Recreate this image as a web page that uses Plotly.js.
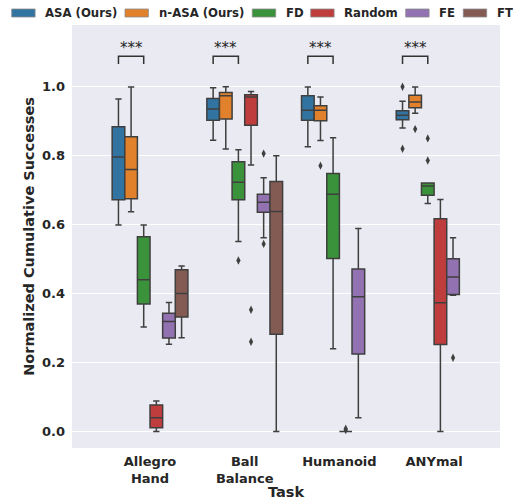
<!DOCTYPE html>
<html>
<head>
<meta charset="utf-8">
<script src="https://cdn.plot.ly/plotly-3.0.1.min.js"></script>
<style>
  html, body { margin: 0; padding: 0; background: #ffffff; }
  #chart { width: 513px; height: 500px; }
</style>
</head>
<body>
<div id="chart"></div>
<script>
// Tasks on the x axis and the compared methods (hue)
const tasks = ['Allegro<br>Hand', 'Ball<br>Balance', 'Humanoid', 'ANYmal'];
const methods = ['ASA (Ours)', 'n-ASA (Ours)', 'FD', 'Random', 'FE', 'FT'];
const colors = ['#3274a1', '#e1812c', '#3a923a', '#c03d3e', '#9372b2', '#845b53'];

// Box statistics per task: [lower whisker, Q1, median, Q3, upper whisker]; null = not run
const asaStats = [
  [0.599, 0.672, 0.796, 0.884, 0.964],
  [0.845, 0.903, 0.935, 0.966, 0.997],
  [0.826, 0.903, 0.932, 0.974, 0.999],
  [0.880, 0.904, 0.917, 0.930, 0.958]
];
const nAsaStats = [
  [0.637, 0.675, 0.760, 0.855, 0.999],
  [0.819, 0.906, 0.974, 0.983, 1.000],
  [0.844, 0.901, 0.932, 0.945, 0.970],
  [0.923, 0.939, 0.956, 0.975, 0.999]
];
const fdStats = [
  [0.303, 0.370, 0.440, 0.565, 0.599],
  [0.551, 0.672, 0.723, 0.782, 0.817],
  [0.240, 0.502, 0.688, 0.748, 0.852],
  [0.661, 0.685, 0.712, 0.721, 0.721]
];
const randomStats = [
  [0.000, 0.011, 0.040, 0.077, 0.088],
  [0.773, 0.888, 0.970, 0.977, 0.986],
  [0.000, 0.000, 0.000, 0.000, 0.000],
  [0.000, 0.252, 0.373, 0.617, 0.673]
];
const feStats = [
  [0.253, 0.271, 0.319, 0.343, 0.374],
  [0.562, 0.636, 0.665, 0.688, 0.736],
  [0.040, 0.225, 0.391, 0.471, 0.589],
  [0.395, 0.397, 0.448, 0.501, 0.562]
];
const ftStats = [
  [0.272, 0.332, 0.400, 0.469, 0.480],
  [0.000, 0.282, 0.638, 0.725, 0.800],
  null,
  null
];

// Points beyond the whiskers, per task
const asaOutliers = [[], [], [], [1.000, 0.820]];
const nAsaOutliers = [[], [], [0.771], [0.877]];
const fdOutliers = [[], [0.496], [], [0.850, 0.786]];
const randomOutliers = [[], [0.353, 0.260], [0.004, 0.008], []];
const feOutliers = [[], [0.806, 0.544], [], [0.214]];
const ftOutliers = [[], [], [], []];

// Significance marks between ASA and the baselines
const sigLabels = ['***', '***', '***', '***'];

const allStats = [asaStats, nAsaStats, fdStats, randomStats, feStats, ftStats];
const allOutliers = [asaOutliers, nAsaOutliers, fdOutliers, randomOutliers, feOutliers, ftOutliers];

const edgeColor = '#3f3f3f';
const textColor = '#262626';
const font = 'DejaVu Sans, Verdana, sans-serif';

const groupWidth = 0.8;
const slot = groupWidth / methods.length;
const offset = h => -groupWidth / 2 + (h + 0.5) * slot;

const traces = [];
allStats.forEach((stats, h) => {
  const xs = [], lo = [], q1 = [], md = [], q3 = [], hi = [];
  stats.forEach((s, t) => {
    if (!s) return;
    xs.push(t + offset(h));
    lo.push(s[0]); q1.push(s[1]); md.push(s[2]); q3.push(s[3]); hi.push(s[4]);
  });
  traces.push({
    type: 'box', name: methods[h],
    x: xs, lowerfence: lo, q1: q1, median: md, q3: q3, upperfence: hi,
    width: slot, whiskerwidth: 0.5,
    fillcolor: colors[h],
    line: { color: edgeColor, width: 1.5 },
    boxpoints: false, hoverinfo: 'skip', showlegend: false
  });
  const ox = [], oy = [];
  allOutliers[h].forEach((vals, t) => vals.forEach(v => { ox.push(t + offset(h)); oy.push(v); }));
  if (ox.length) {
    traces.push({
      type: 'scatter', mode: 'markers', x: ox, y: oy,
      marker: { symbol: 'diamond-tall', size: 6, color: edgeColor },
      hoverinfo: 'skip', showlegend: false
    });
  }
});

// Plot-area geometry in pixels, used to place the legend row above it
const W = 513, H = 500;
const M = { l: 72, r: 13, t: 25, b: 52 };
const pw = W - M.l - M.r, ph = H - M.t - M.b;
const paperX = px => (px - M.l) / pw;
const paperY = py => (H - M.b - py) / ph;

const shapes = [];
const annotations = [];

// Significance brackets from ASA across its neighbours
const bracketLow = 1.066, bracketHigh = 1.088;
sigLabels.forEach((lab, t) => {
  const x0 = t + offset(0), x1 = t + offset(2);
  shapes.push({
    type: 'path', xref: 'x', yref: 'y',
    path: `M ${x0},${bracketLow} L ${x0},${bracketHigh} L ${x1},${bracketHigh} L ${x1},${bracketLow}`,
    line: { color: '#333333', width: 1.5 }
  });
  annotations.push({
    xref: 'x', yref: 'y', x: (x0 + x1) / 2, y: 1.111,
    text: lab, showarrow: false, xanchor: 'center', yanchor: 'middle',
    font: { family: font, size: 15, color: textColor }
  });
});

// Legend row
const patchLeft = [11.7, 125, 252.3, 310.7, 405.7, 463.3];
methods.forEach((m, h) => {
  const x0 = patchLeft[h];
  shapes.push({
    type: 'rect', xref: 'paper', yref: 'paper',
    x0: paperX(x0), x1: paperX(x0 + 23.4), y0: paperY(17), y1: paperY(9),
    fillcolor: colors[h], line: { color: '#8c8c8c', width: 0.8 }
  });
  annotations.push({
    xref: 'paper', yref: 'paper', x: paperX(x0 + 32.5), y: paperY(13),
    text: m, showarrow: false, xanchor: 'left', yanchor: 'middle', borderpad: 0,
    font: { family: font, size: 11.7, color: textColor, weight: 'bold' }
  });
});

const layout = {
  width: W, height: H,
  margin: M,
  paper_bgcolor: '#ffffff',
  plot_bgcolor: '#eaeaf2',
  showlegend: false,
  boxmode: 'overlay',
  xaxis: {
    range: [-0.824, 3.696],
    tickmode: 'array', tickvals: tasks.map((_, i) => i), ticktext: tasks,
    showgrid: false, zeroline: false, showline: false, ticks: '',
    ticklabelstandoff: 4,
    tickfont: { family: font, size: 13, color: textColor, weight: 'bold' },
    title: { text: 'Task', standoff: 7, font: { family: font, size: 14.5, color: textColor, weight: 'bold' } }
  },
  yaxis: {
    range: [-0.048, 1.179],
    tickmode: 'array', tickvals: [0, 0.2, 0.4, 0.6, 0.8, 1.0],
    tickformat: '.1f',
    showgrid: true, gridcolor: '#ffffff', gridwidth: 1,
    zeroline: false, showline: false, ticks: '',
    ticklabelstandoff: 6,
    tickfont: { family: font, size: 13, color: textColor, weight: 'bold' },
    title: { text: 'Normalized Cumulative Successes', standoff: 3, font: { family: font, size: 14.5, color: textColor, weight: 'bold' } }
  },
  shapes: shapes,
  annotations: annotations
};

Plotly.newPlot('chart', traces, layout, { staticPlot: true, displayModeBar: false });
</script>
</body>
</html>
